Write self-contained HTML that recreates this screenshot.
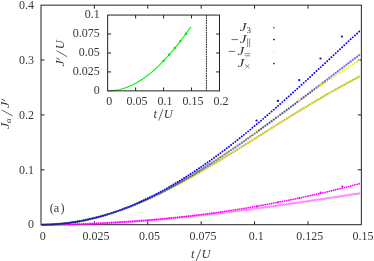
<!DOCTYPE html><html><head><meta charset="utf-8"><style>html,body{margin:0;padding:0;background:#fff}svg{display:block;will-change:transform}text{font-family:"Liberation Serif",serif;fill:#383838}</style></head><body>
<svg width="374" height="261" viewBox="0 0 374 261">
<rect width="374" height="261" fill="#fff"/>
<g stroke="#222" stroke-width="1" fill="none">
<rect x="41.0" y="5.15" width="320.35" height="219.55"/>
<path d="M94.39 224.7v-3.5M94.39 5.15v3.5"/>
<path d="M147.78 224.7v-3.5M147.78 5.15v3.5"/>
<path d="M201.18 224.7v-3.5M201.18 5.15v3.5"/>
<path d="M254.57 224.7v-3.5M254.57 5.15v3.5"/>
<path d="M307.96 224.7v-3.5M307.96 5.15v3.5"/>
<path d="M41.0 60.04h3.5M361.35 60.04h-3.5"/>
<path d="M41.0 114.92h3.5M361.35 114.92h-3.5"/>
<path d="M41.0 169.81h3.5M361.35 169.81h-3.5"/>
</g>
<g fill="none" stroke="#ff00ff" stroke-width="0.75" opacity="0.72"><circle cx="43.14" cy="224.70" r="0.8"/><circle cx="45.27" cy="224.69" r="0.8"/><circle cx="47.41" cy="224.68" r="0.8"/><circle cx="49.54" cy="224.67" r="0.8"/><circle cx="51.68" cy="224.65" r="0.8"/><circle cx="53.81" cy="224.63" r="0.8"/><circle cx="55.95" cy="224.61" r="0.8"/><circle cx="58.09" cy="224.58" r="0.8"/><circle cx="60.22" cy="224.55" r="0.8"/><circle cx="62.36" cy="224.52" r="0.8"/><circle cx="64.49" cy="224.48" r="0.8"/><circle cx="66.63" cy="224.44" r="0.8"/><circle cx="68.76" cy="224.39" r="0.8"/><circle cx="70.90" cy="224.35" r="0.8"/><circle cx="73.03" cy="224.29" r="0.8"/><circle cx="75.17" cy="224.24" r="0.8"/><circle cx="77.31" cy="224.18" r="0.8"/><circle cx="79.44" cy="224.12" r="0.8"/><circle cx="81.58" cy="224.05" r="0.8"/><circle cx="83.71" cy="223.98" r="0.8"/><circle cx="85.85" cy="223.91" r="0.8"/><circle cx="87.98" cy="223.83" r="0.8"/><circle cx="90.12" cy="223.75" r="0.8"/><circle cx="92.26" cy="223.66" r="0.8"/><circle cx="94.39" cy="223.58" r="0.8"/><circle cx="96.53" cy="223.49" r="0.8"/><circle cx="98.66" cy="223.39" r="0.8"/><circle cx="100.80" cy="223.29" r="0.8"/><circle cx="102.93" cy="223.19" r="0.8"/><circle cx="105.07" cy="223.09" r="0.8"/><circle cx="107.21" cy="222.98" r="0.8"/><circle cx="109.34" cy="222.87" r="0.8"/><circle cx="111.48" cy="222.76" r="0.8"/><circle cx="113.61" cy="222.64" r="0.8"/><circle cx="115.75" cy="222.52" r="0.8"/><circle cx="117.88" cy="222.39" r="0.8"/><circle cx="120.02" cy="222.26" r="0.8"/><circle cx="122.16" cy="222.13" r="0.8"/><circle cx="124.29" cy="222.00" r="0.8"/><circle cx="126.43" cy="221.86" r="0.8"/><circle cx="128.56" cy="221.72" r="0.8"/><circle cx="130.70" cy="221.58" r="0.8"/><circle cx="132.83" cy="221.43" r="0.8"/><circle cx="134.97" cy="221.28" r="0.8"/><circle cx="137.11" cy="221.13" r="0.8"/><circle cx="139.24" cy="220.97" r="0.8"/><circle cx="141.38" cy="220.81" r="0.8"/><circle cx="143.51" cy="220.65" r="0.8"/><circle cx="145.65" cy="220.48" r="0.8"/><circle cx="147.78" cy="220.31" r="0.8"/><circle cx="149.92" cy="220.14" r="0.8"/><circle cx="152.05" cy="219.97" r="0.8"/><circle cx="154.19" cy="219.79" r="0.8"/><circle cx="156.33" cy="219.61" r="0.8"/><circle cx="158.46" cy="219.43" r="0.8"/><circle cx="160.60" cy="219.24" r="0.8"/><circle cx="162.73" cy="219.05" r="0.8"/><circle cx="164.87" cy="218.86" r="0.8"/><circle cx="167.00" cy="218.67" r="0.8"/><circle cx="169.14" cy="218.47" r="0.8"/><circle cx="171.28" cy="218.27" r="0.8"/><circle cx="173.41" cy="218.07" r="0.8"/><circle cx="175.55" cy="217.86" r="0.8"/><circle cx="177.68" cy="217.66" r="0.8"/><circle cx="179.82" cy="217.45" r="0.8"/><circle cx="181.95" cy="217.23" r="0.8"/><circle cx="184.09" cy="217.02" r="0.8"/><circle cx="186.23" cy="216.80" r="0.8"/><circle cx="188.36" cy="216.58" r="0.8"/><circle cx="190.50" cy="216.36" r="0.8"/><circle cx="192.63" cy="216.13" r="0.8"/><circle cx="194.77" cy="215.90" r="0.8"/><circle cx="196.90" cy="215.67" r="0.8"/><circle cx="199.04" cy="215.44" r="0.8"/><circle cx="201.18" cy="215.21" r="0.8"/><circle cx="203.31" cy="214.97" r="0.8"/><circle cx="205.45" cy="214.73" r="0.8"/><circle cx="207.58" cy="214.49" r="0.8"/><circle cx="209.72" cy="214.24" r="0.8"/><circle cx="211.85" cy="214.00" r="0.8"/><circle cx="213.99" cy="213.75" r="0.8"/><circle cx="216.12" cy="213.50" r="0.8"/><circle cx="218.26" cy="213.25" r="0.8"/><circle cx="220.40" cy="212.99" r="0.8"/><circle cx="222.53" cy="212.74" r="0.8"/><circle cx="224.67" cy="212.48" r="0.8"/><circle cx="226.80" cy="212.22" r="0.8"/><circle cx="228.94" cy="211.96" r="0.8"/><circle cx="231.07" cy="211.69" r="0.8"/><circle cx="233.21" cy="211.43" r="0.8"/><circle cx="235.35" cy="211.16" r="0.8"/><circle cx="237.48" cy="210.89" r="0.8"/><circle cx="239.62" cy="210.62" r="0.8"/><circle cx="241.75" cy="210.34" r="0.8"/><circle cx="243.89" cy="210.07" r="0.8"/><circle cx="246.02" cy="209.79" r="0.8"/><circle cx="248.16" cy="209.51" r="0.8"/><circle cx="250.30" cy="209.24" r="0.8"/><circle cx="252.43" cy="208.95" r="0.8"/><circle cx="254.57" cy="208.67" r="0.8"/><circle cx="256.70" cy="208.39" r="0.8"/><circle cx="258.84" cy="208.10" r="0.8"/><circle cx="260.97" cy="207.81" r="0.8"/><circle cx="263.11" cy="207.52" r="0.8"/><circle cx="265.25" cy="207.23" r="0.8"/><circle cx="267.38" cy="206.94" r="0.8"/><circle cx="269.52" cy="206.65" r="0.8"/><circle cx="271.65" cy="206.35" r="0.8"/><circle cx="273.79" cy="206.06" r="0.8"/><circle cx="275.92" cy="205.76" r="0.8"/><circle cx="278.06" cy="205.46" r="0.8"/><circle cx="280.19" cy="205.16" r="0.8"/><circle cx="282.33" cy="204.86" r="0.8"/><circle cx="284.47" cy="204.56" r="0.8"/><circle cx="286.60" cy="204.26" r="0.8"/><circle cx="288.74" cy="203.96" r="0.8"/><circle cx="290.87" cy="203.65" r="0.8"/><circle cx="293.01" cy="203.35" r="0.8"/><circle cx="295.14" cy="203.04" r="0.8"/><circle cx="297.28" cy="202.73" r="0.8"/><circle cx="299.42" cy="202.42" r="0.8"/><circle cx="301.55" cy="202.11" r="0.8"/><circle cx="303.69" cy="201.80" r="0.8"/><circle cx="305.82" cy="201.49" r="0.8"/><circle cx="307.96" cy="201.18" r="0.8"/><circle cx="310.09" cy="200.86" r="0.8"/><circle cx="312.23" cy="200.55" r="0.8"/><circle cx="314.37" cy="200.23" r="0.8"/><circle cx="316.50" cy="199.92" r="0.8"/><circle cx="318.64" cy="199.60" r="0.8"/><circle cx="320.77" cy="199.29" r="0.8"/><circle cx="322.91" cy="198.97" r="0.8"/><circle cx="325.04" cy="198.65" r="0.8"/><circle cx="327.18" cy="198.33" r="0.8"/><circle cx="329.32" cy="198.01" r="0.8"/><circle cx="331.45" cy="197.69" r="0.8"/><circle cx="333.59" cy="197.37" r="0.8"/><circle cx="335.72" cy="197.05" r="0.8"/><circle cx="337.86" cy="196.73" r="0.8"/><circle cx="339.99" cy="196.41" r="0.8"/><circle cx="342.13" cy="196.09" r="0.8"/><circle cx="344.26" cy="195.76" r="0.8"/><circle cx="346.40" cy="195.44" r="0.8"/><circle cx="348.54" cy="195.12" r="0.8"/><circle cx="350.67" cy="194.79" r="0.8"/><circle cx="352.81" cy="194.47" r="0.8"/><circle cx="354.94" cy="194.14" r="0.8"/><circle cx="357.08" cy="193.82" r="0.8"/><circle cx="359.21" cy="193.49" r="0.8"/></g>
<g fill="#ff00ff" opacity="1"><circle cx="43.14" cy="224.70" r="0.9"/><circle cx="45.27" cy="224.69" r="0.9"/><circle cx="47.41" cy="224.68" r="0.9"/><circle cx="49.54" cy="224.67" r="0.9"/><circle cx="51.68" cy="224.66" r="0.9"/><circle cx="53.81" cy="224.64" r="0.9"/><circle cx="55.95" cy="224.61" r="0.9"/><circle cx="58.09" cy="224.59" r="0.9"/><circle cx="60.22" cy="224.56" r="0.9"/><circle cx="62.36" cy="224.52" r="0.9"/><circle cx="64.49" cy="224.48" r="0.9"/><circle cx="66.63" cy="224.44" r="0.9"/><circle cx="68.76" cy="224.40" r="0.9"/><circle cx="70.90" cy="224.35" r="0.9"/><circle cx="73.03" cy="224.30" r="0.9"/><circle cx="75.17" cy="224.24" r="0.9"/><circle cx="77.31" cy="224.18" r="0.9"/><circle cx="79.44" cy="224.12" r="0.9"/><circle cx="81.58" cy="224.06" r="0.9"/><circle cx="83.71" cy="223.99" r="0.9"/><circle cx="85.85" cy="223.91" r="0.9"/><circle cx="87.98" cy="223.84" r="0.9"/><circle cx="90.12" cy="223.76" r="0.9"/><circle cx="92.26" cy="223.67" r="0.9"/><circle cx="94.39" cy="223.58" r="0.9"/><circle cx="96.53" cy="223.49" r="0.9"/><circle cx="98.66" cy="223.40" r="0.9"/><circle cx="100.80" cy="223.30" r="0.9"/><circle cx="102.93" cy="223.20" r="0.9"/><circle cx="105.07" cy="223.09" r="0.9"/><circle cx="107.21" cy="222.98" r="0.9"/><circle cx="109.34" cy="222.87" r="0.9"/><circle cx="111.48" cy="222.75" r="0.9"/><circle cx="113.61" cy="222.63" r="0.9"/><circle cx="115.75" cy="222.51" r="0.9"/><circle cx="117.88" cy="222.38" r="0.9"/><circle cx="120.02" cy="222.25" r="0.9"/><circle cx="122.16" cy="222.12" r="0.9"/><circle cx="124.29" cy="221.98" r="0.9"/><circle cx="126.43" cy="221.84" r="0.9"/><circle cx="128.56" cy="221.69" r="0.9"/><circle cx="130.70" cy="221.54" r="0.9"/><circle cx="132.83" cy="221.39" r="0.9"/><circle cx="134.97" cy="221.24" r="0.9"/><circle cx="137.11" cy="221.08" r="0.9"/><circle cx="139.24" cy="220.91" r="0.9"/><circle cx="141.38" cy="220.75" r="0.9"/><circle cx="143.51" cy="220.58" r="0.9"/><circle cx="145.65" cy="220.40" r="0.9"/><circle cx="147.78" cy="220.22" r="0.9"/><circle cx="149.92" cy="220.04" r="0.9"/><circle cx="152.05" cy="219.86" r="0.9"/><circle cx="154.19" cy="219.67" r="0.9"/><circle cx="156.33" cy="219.47" r="0.9"/><circle cx="158.46" cy="219.28" r="0.9"/><circle cx="160.60" cy="219.08" r="0.9"/><circle cx="162.73" cy="218.88" r="0.9"/><circle cx="164.87" cy="218.67" r="0.9"/><circle cx="167.00" cy="218.46" r="0.9"/><circle cx="169.14" cy="218.24" r="0.9"/><circle cx="171.28" cy="218.02" r="0.9"/><circle cx="173.41" cy="217.80" r="0.9"/><circle cx="175.55" cy="217.58" r="0.9"/><circle cx="177.68" cy="217.35" r="0.9"/><circle cx="179.82" cy="217.11" r="0.9"/><circle cx="181.95" cy="216.88" r="0.9"/><circle cx="184.09" cy="216.64" r="0.9"/><circle cx="186.23" cy="216.39" r="0.9"/><circle cx="188.36" cy="216.14" r="0.9"/><circle cx="190.50" cy="215.89" r="0.9"/><circle cx="192.63" cy="215.64" r="0.9"/><circle cx="194.77" cy="215.38" r="0.9"/><circle cx="196.90" cy="215.12" r="0.9"/><circle cx="199.04" cy="214.85" r="0.9"/><circle cx="201.18" cy="214.58" r="0.9"/><circle cx="203.31" cy="214.30" r="0.9"/><circle cx="205.45" cy="214.03" r="0.9"/><circle cx="207.58" cy="213.75" r="0.9"/><circle cx="209.72" cy="213.46" r="0.9"/><circle cx="211.85" cy="213.17" r="0.9"/><circle cx="213.99" cy="212.88" r="0.9"/><circle cx="216.12" cy="212.58" r="0.9"/><circle cx="218.26" cy="212.28" r="0.9"/><circle cx="220.40" cy="211.98" r="0.9"/><circle cx="222.53" cy="211.67" r="0.9"/><circle cx="224.67" cy="211.36" r="0.9"/><circle cx="226.80" cy="211.04" r="0.9"/><circle cx="228.94" cy="210.72" r="0.9"/><circle cx="231.07" cy="210.40" r="0.9"/><circle cx="233.21" cy="210.07" r="0.9"/><circle cx="235.35" cy="209.74" r="0.9"/><circle cx="237.48" cy="209.40" r="0.9"/><circle cx="239.62" cy="209.07" r="0.9"/><circle cx="241.75" cy="208.72" r="0.9"/><circle cx="243.89" cy="208.38" r="0.9"/><circle cx="246.02" cy="208.03" r="0.9"/><circle cx="248.16" cy="207.67" r="0.9"/><circle cx="250.30" cy="207.31" r="0.9"/><circle cx="252.43" cy="206.95" r="0.9"/><circle cx="254.57" cy="206.59" r="0.9"/><circle cx="256.70" cy="206.22" r="0.9"/><circle cx="258.84" cy="205.84" r="0.9"/><circle cx="260.97" cy="205.47" r="0.9"/><circle cx="263.11" cy="205.08" r="0.9"/><circle cx="265.25" cy="204.70" r="0.9"/><circle cx="267.38" cy="204.31" r="0.9"/><circle cx="269.52" cy="203.92" r="0.9"/><circle cx="271.65" cy="203.52" r="0.9"/><circle cx="273.79" cy="203.12" r="0.9"/><circle cx="275.92" cy="202.71" r="0.9"/><circle cx="278.06" cy="202.30" r="0.9"/><circle cx="280.19" cy="201.89" r="0.9"/><circle cx="282.33" cy="201.47" r="0.9"/><circle cx="284.47" cy="201.05" r="0.9"/><circle cx="286.60" cy="200.63" r="0.9"/><circle cx="288.74" cy="200.20" r="0.9"/><circle cx="290.87" cy="199.77" r="0.9"/><circle cx="293.01" cy="199.33" r="0.9"/><circle cx="295.14" cy="198.89" r="0.9"/><circle cx="297.28" cy="198.44" r="0.9"/><circle cx="299.42" cy="197.99" r="0.9"/><circle cx="301.55" cy="197.54" r="0.9"/><circle cx="303.69" cy="197.08" r="0.9"/><circle cx="305.82" cy="196.62" r="0.9"/><circle cx="307.96" cy="196.16" r="0.9"/><circle cx="310.09" cy="195.69" r="0.9"/><circle cx="312.23" cy="195.21" r="0.9"/><circle cx="314.37" cy="194.74" r="0.9"/><circle cx="316.50" cy="194.26" r="0.9"/><circle cx="318.64" cy="193.77" r="0.9"/><circle cx="320.77" cy="193.28" r="0.9"/><circle cx="322.91" cy="192.79" r="0.9"/><circle cx="325.04" cy="192.29" r="0.9"/><circle cx="327.18" cy="191.78" r="0.9"/><circle cx="329.32" cy="191.28" r="0.9"/><circle cx="331.45" cy="190.77" r="0.9"/><circle cx="333.59" cy="190.25" r="0.9"/><circle cx="335.72" cy="189.73" r="0.9"/><circle cx="337.86" cy="189.21" r="0.9"/><circle cx="339.99" cy="188.68" r="0.9"/><circle cx="342.13" cy="188.15" r="0.9"/><circle cx="344.26" cy="187.61" r="0.9"/><circle cx="346.40" cy="187.07" r="0.9"/><circle cx="348.54" cy="186.53" r="0.9"/><circle cx="350.67" cy="185.98" r="0.9"/><circle cx="352.81" cy="185.43" r="0.9"/><circle cx="354.94" cy="184.87" r="0.9"/><circle cx="357.08" cy="184.31" r="0.9"/><circle cx="359.21" cy="183.74" r="0.9"/></g>
<g fill="#cccc28" opacity="0.95"><circle cx="43.14" cy="224.69" r="1.2"/><circle cx="45.27" cy="224.66" r="1.2"/><circle cx="47.41" cy="224.60" r="1.2"/><circle cx="49.54" cy="224.53" r="1.2"/><circle cx="51.68" cy="224.43" r="1.2"/><circle cx="53.81" cy="224.31" r="1.2"/><circle cx="55.95" cy="224.17" r="1.2"/><circle cx="58.09" cy="224.01" r="1.2"/><circle cx="60.22" cy="223.83" r="1.2"/><circle cx="62.36" cy="223.62" r="1.2"/><circle cx="64.49" cy="223.40" r="1.2"/><circle cx="66.63" cy="223.15" r="1.2"/><circle cx="68.76" cy="222.88" r="1.2"/><circle cx="70.90" cy="222.59" r="1.2"/><circle cx="73.03" cy="222.28" r="1.2"/><circle cx="75.17" cy="221.95" r="1.2"/><circle cx="77.31" cy="221.60" r="1.2"/><circle cx="79.44" cy="221.22" r="1.2"/><circle cx="81.58" cy="220.83" r="1.2"/><circle cx="83.71" cy="220.42" r="1.2"/><circle cx="85.85" cy="219.98" r="1.2"/><circle cx="87.98" cy="219.53" r="1.2"/><circle cx="90.12" cy="219.05" r="1.2"/><circle cx="92.26" cy="218.56" r="1.2"/><circle cx="94.39" cy="218.04" r="1.2"/><circle cx="96.53" cy="217.51" r="1.2"/><circle cx="98.66" cy="216.95" r="1.2"/><circle cx="100.80" cy="216.38" r="1.2"/><circle cx="102.93" cy="215.79" r="1.2"/><circle cx="105.07" cy="215.18" r="1.2"/><circle cx="107.21" cy="214.54" r="1.2"/><circle cx="109.34" cy="213.90" r="1.2"/><circle cx="111.48" cy="213.23" r="1.2"/><circle cx="113.61" cy="212.54" r="1.2"/><circle cx="115.75" cy="211.84" r="1.2"/><circle cx="117.88" cy="211.11" r="1.2"/><circle cx="120.02" cy="210.37" r="1.2"/><circle cx="122.16" cy="209.61" r="1.2"/><circle cx="124.29" cy="208.84" r="1.2"/><circle cx="126.43" cy="208.05" r="1.2"/><circle cx="128.56" cy="207.24" r="1.2"/><circle cx="130.70" cy="206.41" r="1.2"/><circle cx="132.83" cy="205.57" r="1.2"/><circle cx="134.97" cy="204.71" r="1.2"/><circle cx="137.11" cy="203.83" r="1.2"/><circle cx="139.24" cy="202.94" r="1.2"/><circle cx="141.38" cy="202.04" r="1.2"/><circle cx="143.51" cy="201.11" r="1.2"/><circle cx="145.65" cy="200.18" r="1.2"/><circle cx="147.78" cy="199.23" r="1.2"/><circle cx="149.92" cy="198.26" r="1.2"/><circle cx="152.05" cy="197.28" r="1.2"/><circle cx="154.19" cy="196.28" r="1.2"/><circle cx="156.33" cy="195.27" r="1.2"/><circle cx="158.46" cy="194.25" r="1.2"/><circle cx="160.60" cy="193.22" r="1.2"/><circle cx="162.73" cy="192.17" r="1.2"/><circle cx="164.87" cy="191.11" r="1.2"/><circle cx="167.00" cy="190.03" r="1.2"/><circle cx="169.14" cy="188.95" r="1.2"/><circle cx="171.28" cy="187.85" r="1.2"/><circle cx="173.41" cy="186.74" r="1.2"/><circle cx="175.55" cy="185.62" r="1.2"/><circle cx="177.68" cy="184.49" r="1.2"/><circle cx="179.82" cy="183.34" r="1.2"/><circle cx="181.95" cy="182.19" r="1.2"/><circle cx="184.09" cy="181.02" r="1.2"/><circle cx="186.23" cy="179.85" r="1.2"/><circle cx="188.36" cy="178.67" r="1.2"/><circle cx="190.50" cy="177.47" r="1.2"/><circle cx="192.63" cy="176.27" r="1.2"/><circle cx="194.77" cy="175.06" r="1.2"/><circle cx="196.90" cy="173.84" r="1.2"/><circle cx="199.04" cy="172.62" r="1.2"/><circle cx="201.18" cy="171.38" r="1.2"/><circle cx="203.31" cy="170.14" r="1.2"/><circle cx="205.45" cy="168.89" r="1.2"/><circle cx="207.58" cy="167.63" r="1.2"/><circle cx="209.72" cy="166.36" r="1.2"/><circle cx="211.85" cy="165.09" r="1.2"/><circle cx="213.99" cy="163.82" r="1.2"/><circle cx="216.12" cy="162.53" r="1.2"/><circle cx="218.26" cy="161.24" r="1.2"/><circle cx="220.40" cy="159.95" r="1.2"/><circle cx="222.53" cy="158.65" r="1.2"/><circle cx="224.67" cy="157.35" r="1.2"/><circle cx="226.80" cy="156.04" r="1.2"/><circle cx="228.94" cy="154.73" r="1.2"/><circle cx="231.07" cy="153.41" r="1.2"/><circle cx="233.21" cy="152.09" r="1.2"/><circle cx="235.35" cy="150.77" r="1.2"/><circle cx="237.48" cy="149.44" r="1.2"/><circle cx="239.62" cy="148.11" r="1.2"/><circle cx="241.75" cy="146.78" r="1.2"/><circle cx="243.89" cy="145.44" r="1.2"/><circle cx="246.02" cy="144.11" r="1.2"/><circle cx="248.16" cy="142.77" r="1.2"/><circle cx="250.30" cy="141.43" r="1.2"/><circle cx="252.43" cy="140.09" r="1.2"/><circle cx="254.57" cy="138.75" r="1.2"/><circle cx="256.70" cy="137.41" r="1.2"/><circle cx="258.84" cy="136.06" r="1.2"/><circle cx="260.97" cy="134.72" r="1.2"/><circle cx="263.11" cy="133.38" r="1.2"/><circle cx="265.25" cy="132.04" r="1.2"/><circle cx="267.38" cy="130.69" r="1.2"/><circle cx="269.52" cy="129.35" r="1.2"/><circle cx="271.65" cy="128.01" r="1.2"/><circle cx="273.79" cy="126.67" r="1.2"/><circle cx="275.92" cy="125.34" r="1.2"/><circle cx="278.06" cy="124.00" r="1.2"/><circle cx="280.19" cy="122.67" r="1.2"/><circle cx="282.33" cy="121.34" r="1.2"/><circle cx="284.47" cy="120.01" r="1.2"/><circle cx="286.60" cy="118.69" r="1.2"/><circle cx="288.74" cy="117.36" r="1.2"/><circle cx="290.87" cy="116.05" r="1.2"/><circle cx="293.01" cy="114.73" r="1.2"/><circle cx="295.14" cy="113.42" r="1.2"/><circle cx="297.28" cy="112.11" r="1.2"/><circle cx="299.42" cy="110.80" r="1.2"/><circle cx="301.55" cy="109.50" r="1.2"/><circle cx="303.69" cy="108.21" r="1.2"/><circle cx="305.82" cy="106.92" r="1.2"/><circle cx="307.96" cy="105.63" r="1.2"/><circle cx="310.09" cy="104.35" r="1.2"/><circle cx="312.23" cy="103.08" r="1.2"/><circle cx="314.37" cy="101.80" r="1.2"/><circle cx="316.50" cy="100.54" r="1.2"/><circle cx="318.64" cy="99.28" r="1.2"/><circle cx="320.77" cy="98.03" r="1.2"/><circle cx="322.91" cy="96.78" r="1.2"/><circle cx="325.04" cy="95.54" r="1.2"/><circle cx="327.18" cy="94.31" r="1.2"/><circle cx="329.32" cy="93.08" r="1.2"/><circle cx="331.45" cy="91.86" r="1.2"/><circle cx="333.59" cy="90.64" r="1.2"/><circle cx="335.72" cy="89.43" r="1.2"/><circle cx="337.86" cy="88.23" r="1.2"/><circle cx="339.99" cy="87.04" r="1.2"/><circle cx="342.13" cy="85.86" r="1.2"/><circle cx="344.26" cy="84.68" r="1.2"/><circle cx="346.40" cy="83.51" r="1.2"/><circle cx="348.54" cy="82.35" r="1.2"/><circle cx="350.67" cy="81.19" r="1.2"/><circle cx="352.81" cy="80.05" r="1.2"/><circle cx="354.94" cy="78.91" r="1.2"/><circle cx="357.08" cy="77.78" r="1.2"/><circle cx="359.21" cy="76.66" r="1.2"/></g>
<g fill="#000" opacity="0.15"><circle cx="43.14" cy="224.69" r="0.45"/><circle cx="45.27" cy="224.66" r="0.45"/><circle cx="47.41" cy="224.60" r="0.45"/><circle cx="49.54" cy="224.53" r="0.45"/><circle cx="51.68" cy="224.43" r="0.45"/><circle cx="53.81" cy="224.31" r="0.45"/><circle cx="55.95" cy="224.17" r="0.45"/><circle cx="58.09" cy="224.01" r="0.45"/><circle cx="60.22" cy="223.83" r="0.45"/><circle cx="62.36" cy="223.62" r="0.45"/><circle cx="64.49" cy="223.40" r="0.45"/><circle cx="66.63" cy="223.15" r="0.45"/><circle cx="68.76" cy="222.88" r="0.45"/><circle cx="70.90" cy="222.59" r="0.45"/><circle cx="73.03" cy="222.28" r="0.45"/><circle cx="75.17" cy="221.95" r="0.45"/><circle cx="77.31" cy="221.60" r="0.45"/><circle cx="79.44" cy="221.22" r="0.45"/><circle cx="81.58" cy="220.83" r="0.45"/><circle cx="83.71" cy="220.42" r="0.45"/><circle cx="85.85" cy="219.98" r="0.45"/><circle cx="87.98" cy="219.53" r="0.45"/><circle cx="90.12" cy="219.05" r="0.45"/><circle cx="92.26" cy="218.56" r="0.45"/><circle cx="94.39" cy="218.04" r="0.45"/><circle cx="96.53" cy="217.51" r="0.45"/><circle cx="98.66" cy="216.95" r="0.45"/><circle cx="100.80" cy="216.38" r="0.45"/><circle cx="102.93" cy="215.79" r="0.45"/><circle cx="105.07" cy="215.18" r="0.45"/><circle cx="107.21" cy="214.54" r="0.45"/><circle cx="109.34" cy="213.90" r="0.45"/><circle cx="111.48" cy="213.23" r="0.45"/><circle cx="113.61" cy="212.54" r="0.45"/><circle cx="115.75" cy="211.84" r="0.45"/><circle cx="117.88" cy="211.11" r="0.45"/><circle cx="120.02" cy="210.37" r="0.45"/><circle cx="122.16" cy="209.61" r="0.45"/><circle cx="124.29" cy="208.84" r="0.45"/><circle cx="126.43" cy="208.05" r="0.45"/><circle cx="128.56" cy="207.24" r="0.45"/><circle cx="130.70" cy="206.41" r="0.45"/><circle cx="132.83" cy="205.57" r="0.45"/><circle cx="134.97" cy="204.71" r="0.45"/><circle cx="137.11" cy="203.83" r="0.45"/><circle cx="139.24" cy="202.94" r="0.45"/><circle cx="141.38" cy="202.04" r="0.45"/><circle cx="143.51" cy="201.11" r="0.45"/><circle cx="145.65" cy="200.18" r="0.45"/><circle cx="147.78" cy="199.23" r="0.45"/><circle cx="149.92" cy="198.26" r="0.45"/><circle cx="152.05" cy="197.28" r="0.45"/><circle cx="154.19" cy="196.28" r="0.45"/><circle cx="156.33" cy="195.27" r="0.45"/><circle cx="158.46" cy="194.25" r="0.45"/><circle cx="160.60" cy="193.22" r="0.45"/><circle cx="162.73" cy="192.17" r="0.45"/><circle cx="164.87" cy="191.11" r="0.45"/><circle cx="167.00" cy="190.03" r="0.45"/><circle cx="169.14" cy="188.95" r="0.45"/><circle cx="171.28" cy="187.85" r="0.45"/><circle cx="173.41" cy="186.74" r="0.45"/><circle cx="175.55" cy="185.62" r="0.45"/><circle cx="177.68" cy="184.49" r="0.45"/><circle cx="179.82" cy="183.34" r="0.45"/><circle cx="181.95" cy="182.19" r="0.45"/><circle cx="184.09" cy="181.02" r="0.45"/><circle cx="186.23" cy="179.85" r="0.45"/><circle cx="188.36" cy="178.67" r="0.45"/><circle cx="190.50" cy="177.47" r="0.45"/><circle cx="192.63" cy="176.27" r="0.45"/><circle cx="194.77" cy="175.06" r="0.45"/><circle cx="196.90" cy="173.84" r="0.45"/><circle cx="199.04" cy="172.62" r="0.45"/><circle cx="201.18" cy="171.38" r="0.45"/><circle cx="203.31" cy="170.14" r="0.45"/><circle cx="205.45" cy="168.89" r="0.45"/><circle cx="207.58" cy="167.63" r="0.45"/><circle cx="209.72" cy="166.36" r="0.45"/><circle cx="211.85" cy="165.09" r="0.45"/><circle cx="213.99" cy="163.82" r="0.45"/><circle cx="216.12" cy="162.53" r="0.45"/><circle cx="218.26" cy="161.24" r="0.45"/><circle cx="220.40" cy="159.95" r="0.45"/><circle cx="222.53" cy="158.65" r="0.45"/><circle cx="224.67" cy="157.35" r="0.45"/><circle cx="226.80" cy="156.04" r="0.45"/><circle cx="228.94" cy="154.73" r="0.45"/><circle cx="231.07" cy="153.41" r="0.45"/><circle cx="233.21" cy="152.09" r="0.45"/><circle cx="235.35" cy="150.77" r="0.45"/><circle cx="237.48" cy="149.44" r="0.45"/><circle cx="239.62" cy="148.11" r="0.45"/><circle cx="241.75" cy="146.78" r="0.45"/><circle cx="243.89" cy="145.44" r="0.45"/><circle cx="246.02" cy="144.11" r="0.45"/><circle cx="248.16" cy="142.77" r="0.45"/><circle cx="250.30" cy="141.43" r="0.45"/><circle cx="252.43" cy="140.09" r="0.45"/><circle cx="254.57" cy="138.75" r="0.45"/><circle cx="256.70" cy="137.41" r="0.45"/><circle cx="258.84" cy="136.06" r="0.45"/><circle cx="260.97" cy="134.72" r="0.45"/><circle cx="263.11" cy="133.38" r="0.45"/><circle cx="265.25" cy="132.04" r="0.45"/><circle cx="267.38" cy="130.69" r="0.45"/><circle cx="269.52" cy="129.35" r="0.45"/><circle cx="271.65" cy="128.01" r="0.45"/><circle cx="273.79" cy="126.67" r="0.45"/><circle cx="275.92" cy="125.34" r="0.45"/><circle cx="278.06" cy="124.00" r="0.45"/><circle cx="280.19" cy="122.67" r="0.45"/><circle cx="282.33" cy="121.34" r="0.45"/><circle cx="284.47" cy="120.01" r="0.45"/><circle cx="286.60" cy="118.69" r="0.45"/><circle cx="288.74" cy="117.36" r="0.45"/><circle cx="290.87" cy="116.05" r="0.45"/><circle cx="293.01" cy="114.73" r="0.45"/><circle cx="295.14" cy="113.42" r="0.45"/><circle cx="297.28" cy="112.11" r="0.45"/><circle cx="299.42" cy="110.80" r="0.45"/><circle cx="301.55" cy="109.50" r="0.45"/><circle cx="303.69" cy="108.21" r="0.45"/><circle cx="305.82" cy="106.92" r="0.45"/><circle cx="307.96" cy="105.63" r="0.45"/><circle cx="310.09" cy="104.35" r="0.45"/><circle cx="312.23" cy="103.08" r="0.45"/><circle cx="314.37" cy="101.80" r="0.45"/><circle cx="316.50" cy="100.54" r="0.45"/><circle cx="318.64" cy="99.28" r="0.45"/><circle cx="320.77" cy="98.03" r="0.45"/><circle cx="322.91" cy="96.78" r="0.45"/><circle cx="325.04" cy="95.54" r="0.45"/><circle cx="327.18" cy="94.31" r="0.45"/><circle cx="329.32" cy="93.08" r="0.45"/><circle cx="331.45" cy="91.86" r="0.45"/><circle cx="333.59" cy="90.64" r="0.45"/><circle cx="335.72" cy="89.43" r="0.45"/><circle cx="337.86" cy="88.23" r="0.45"/><circle cx="339.99" cy="87.04" r="0.45"/><circle cx="342.13" cy="85.86" r="0.45"/><circle cx="344.26" cy="84.68" r="0.45"/><circle cx="346.40" cy="83.51" r="0.45"/><circle cx="348.54" cy="82.35" r="0.45"/><circle cx="350.67" cy="81.19" r="0.45"/><circle cx="352.81" cy="80.05" r="0.45"/><circle cx="354.94" cy="78.91" r="0.45"/><circle cx="357.08" cy="77.78" r="0.45"/><circle cx="359.21" cy="76.66" r="0.45"/></g>
<g fill="#ffff00" opacity="1"><circle cx="256.70" cy="131.42" r="0.9"/><circle cx="258.84" cy="129.89" r="0.9"/><circle cx="260.97" cy="128.37" r="0.9"/><circle cx="263.11" cy="126.84" r="0.9"/><circle cx="265.25" cy="125.31" r="0.9"/><circle cx="267.38" cy="123.77" r="0.9"/><circle cx="269.52" cy="122.24" r="0.9"/><circle cx="271.65" cy="120.70" r="0.9"/><circle cx="273.79" cy="119.16" r="0.9"/><circle cx="275.92" cy="117.62" r="0.9"/><circle cx="278.06" cy="116.08" r="0.9"/><circle cx="280.19" cy="114.54" r="0.9"/><circle cx="282.33" cy="113.00" r="0.9"/><circle cx="284.47" cy="111.46" r="0.9"/><circle cx="286.60" cy="109.92" r="0.9"/><circle cx="288.74" cy="108.38" r="0.9"/><circle cx="290.87" cy="106.84" r="0.9"/><circle cx="293.01" cy="105.30" r="0.9"/><circle cx="295.14" cy="103.77" r="0.9"/><circle cx="297.28" cy="102.23" r="0.9"/><circle cx="299.42" cy="100.70" r="0.9"/><circle cx="301.55" cy="99.17" r="0.9"/><circle cx="303.69" cy="97.65" r="0.9"/><circle cx="305.82" cy="96.13" r="0.9"/><circle cx="307.96" cy="94.61" r="0.9"/><circle cx="310.09" cy="93.10" r="0.9"/><circle cx="312.23" cy="91.59" r="0.9"/><circle cx="314.37" cy="90.08" r="0.9"/><circle cx="316.50" cy="88.58" r="0.9"/><circle cx="318.64" cy="87.09" r="0.9"/><circle cx="320.77" cy="85.60" r="0.9"/><circle cx="322.91" cy="84.11" r="0.9"/><circle cx="325.04" cy="82.64" r="0.9"/><circle cx="327.18" cy="81.17" r="0.9"/><circle cx="329.32" cy="79.71" r="0.9"/><circle cx="331.45" cy="78.25" r="0.9"/><circle cx="333.59" cy="76.80" r="0.9"/><circle cx="335.72" cy="75.36" r="0.9"/><circle cx="337.86" cy="73.93" r="0.9"/><circle cx="339.99" cy="72.51" r="0.9"/><circle cx="342.13" cy="71.10" r="0.9"/><circle cx="344.26" cy="69.70" r="0.9"/><circle cx="346.40" cy="68.30" r="0.9"/><circle cx="348.54" cy="66.92" r="0.9"/><circle cx="350.67" cy="65.55" r="0.9"/><circle cx="352.81" cy="64.19" r="0.9"/><circle cx="354.94" cy="62.84" r="0.9"/><circle cx="357.08" cy="61.50" r="0.9"/><circle cx="359.21" cy="60.18" r="0.9"/></g>
<g fill="#000" opacity="0.4"><circle cx="256.70" cy="131.42" r="0.38"/><circle cx="258.84" cy="129.89" r="0.38"/><circle cx="260.97" cy="128.37" r="0.38"/><circle cx="263.11" cy="126.84" r="0.38"/><circle cx="265.25" cy="125.31" r="0.38"/><circle cx="267.38" cy="123.77" r="0.38"/><circle cx="269.52" cy="122.24" r="0.38"/><circle cx="271.65" cy="120.70" r="0.38"/><circle cx="273.79" cy="119.16" r="0.38"/><circle cx="275.92" cy="117.62" r="0.38"/><circle cx="278.06" cy="116.08" r="0.38"/><circle cx="280.19" cy="114.54" r="0.38"/><circle cx="282.33" cy="113.00" r="0.38"/><circle cx="284.47" cy="111.46" r="0.38"/><circle cx="286.60" cy="109.92" r="0.38"/><circle cx="288.74" cy="108.38" r="0.38"/><circle cx="290.87" cy="106.84" r="0.38"/><circle cx="293.01" cy="105.30" r="0.38"/><circle cx="295.14" cy="103.77" r="0.38"/><circle cx="297.28" cy="102.23" r="0.38"/><circle cx="299.42" cy="100.70" r="0.38"/><circle cx="301.55" cy="99.17" r="0.38"/><circle cx="303.69" cy="97.65" r="0.38"/><circle cx="305.82" cy="96.13" r="0.38"/><circle cx="307.96" cy="94.61" r="0.38"/><circle cx="310.09" cy="93.10" r="0.38"/><circle cx="312.23" cy="91.59" r="0.38"/><circle cx="314.37" cy="90.08" r="0.38"/><circle cx="316.50" cy="88.58" r="0.38"/><circle cx="318.64" cy="87.09" r="0.38"/><circle cx="320.77" cy="85.60" r="0.38"/><circle cx="322.91" cy="84.11" r="0.38"/><circle cx="325.04" cy="82.64" r="0.38"/><circle cx="327.18" cy="81.17" r="0.38"/><circle cx="329.32" cy="79.71" r="0.38"/><circle cx="331.45" cy="78.25" r="0.38"/><circle cx="333.59" cy="76.80" r="0.38"/><circle cx="335.72" cy="75.36" r="0.38"/><circle cx="337.86" cy="73.93" r="0.38"/><circle cx="339.99" cy="72.51" r="0.38"/><circle cx="342.13" cy="71.10" r="0.38"/><circle cx="344.26" cy="69.70" r="0.38"/><circle cx="346.40" cy="68.30" r="0.38"/><circle cx="348.54" cy="66.92" r="0.38"/><circle cx="350.67" cy="65.55" r="0.38"/><circle cx="352.81" cy="64.19" r="0.38"/><circle cx="354.94" cy="62.84" r="0.38"/><circle cx="357.08" cy="61.50" r="0.38"/><circle cx="359.21" cy="60.18" r="0.38"/></g>
<g fill="#000" opacity="0.25"><circle cx="43.14" cy="224.69" r="0.6"/><circle cx="45.27" cy="224.66" r="0.6"/><circle cx="47.41" cy="224.60" r="0.6"/><circle cx="49.54" cy="224.53" r="0.6"/><circle cx="51.68" cy="224.43" r="0.6"/><circle cx="53.81" cy="224.31" r="0.6"/><circle cx="55.95" cy="224.17" r="0.6"/><circle cx="58.09" cy="224.01" r="0.6"/><circle cx="60.22" cy="223.83" r="0.6"/><circle cx="62.36" cy="223.62" r="0.6"/><circle cx="64.49" cy="223.39" r="0.6"/><circle cx="66.63" cy="223.15" r="0.6"/><circle cx="68.76" cy="222.88" r="0.6"/><circle cx="70.90" cy="222.59" r="0.6"/><circle cx="73.03" cy="222.28" r="0.6"/><circle cx="75.17" cy="221.95" r="0.6"/><circle cx="77.31" cy="221.59" r="0.6"/><circle cx="79.44" cy="221.22" r="0.6"/><circle cx="81.58" cy="220.82" r="0.6"/><circle cx="83.71" cy="220.41" r="0.6"/><circle cx="85.85" cy="219.97" r="0.6"/><circle cx="87.98" cy="219.51" r="0.6"/><circle cx="90.12" cy="219.04" r="0.6"/><circle cx="92.26" cy="218.54" r="0.6"/><circle cx="94.39" cy="218.02" r="0.6"/><circle cx="96.53" cy="217.48" r="0.6"/><circle cx="98.66" cy="216.92" r="0.6"/><circle cx="100.80" cy="216.35" r="0.6"/><circle cx="102.93" cy="215.75" r="0.6"/><circle cx="105.07" cy="215.13" r="0.6"/><circle cx="107.21" cy="214.49" r="0.6"/><circle cx="109.34" cy="213.84" r="0.6"/><circle cx="111.48" cy="213.16" r="0.6"/><circle cx="113.61" cy="212.46" r="0.6"/><circle cx="115.75" cy="211.75" r="0.6"/><circle cx="117.88" cy="211.02" r="0.6"/><circle cx="120.02" cy="210.27" r="0.6"/><circle cx="122.16" cy="209.50" r="0.6"/><circle cx="124.29" cy="208.71" r="0.6"/><circle cx="126.43" cy="207.90" r="0.6"/><circle cx="128.56" cy="207.08" r="0.6"/><circle cx="130.70" cy="206.24" r="0.6"/><circle cx="132.83" cy="205.38" r="0.6"/><circle cx="134.97" cy="204.50" r="0.6"/><circle cx="137.11" cy="203.60" r="0.6"/><circle cx="139.24" cy="202.69" r="0.6"/><circle cx="141.38" cy="201.76" r="0.6"/><circle cx="143.51" cy="200.82" r="0.6"/><circle cx="145.65" cy="199.85" r="0.6"/><circle cx="147.78" cy="198.88" r="0.6"/><circle cx="149.92" cy="197.88" r="0.6"/><circle cx="152.05" cy="196.87" r="0.6"/><circle cx="154.19" cy="195.84" r="0.6"/><circle cx="156.33" cy="194.80" r="0.6"/><circle cx="158.46" cy="193.74" r="0.6"/><circle cx="160.60" cy="192.67" r="0.6"/><circle cx="162.73" cy="191.58" r="0.6"/><circle cx="164.87" cy="190.48" r="0.6"/><circle cx="167.00" cy="189.36" r="0.6"/><circle cx="169.14" cy="188.23" r="0.6"/><circle cx="171.28" cy="187.08" r="0.6"/><circle cx="173.41" cy="185.92" r="0.6"/><circle cx="175.55" cy="184.75" r="0.6"/><circle cx="177.68" cy="183.56" r="0.6"/><circle cx="179.82" cy="182.36" r="0.6"/><circle cx="181.95" cy="181.15" r="0.6"/><circle cx="184.09" cy="179.92" r="0.6"/><circle cx="186.23" cy="178.68" r="0.6"/><circle cx="188.36" cy="177.43" r="0.6"/><circle cx="190.50" cy="176.16" r="0.6"/><circle cx="192.63" cy="174.89" r="0.6"/><circle cx="194.77" cy="173.60" r="0.6"/><circle cx="196.90" cy="172.30" r="0.6"/><circle cx="199.04" cy="170.99" r="0.6"/><circle cx="201.18" cy="169.67" r="0.6"/><circle cx="203.31" cy="168.33" r="0.6"/><circle cx="205.45" cy="166.99" r="0.6"/><circle cx="207.58" cy="165.63" r="0.6"/><circle cx="209.72" cy="164.27" r="0.6"/><circle cx="211.85" cy="162.89" r="0.6"/><circle cx="213.99" cy="161.51" r="0.6"/><circle cx="216.12" cy="160.12" r="0.6"/><circle cx="218.26" cy="158.71" r="0.6"/><circle cx="220.40" cy="157.30" r="0.6"/><circle cx="222.53" cy="155.88" r="0.6"/><circle cx="224.67" cy="154.44" r="0.6"/><circle cx="226.80" cy="153.01" r="0.6"/><circle cx="228.94" cy="151.56" r="0.6"/><circle cx="231.07" cy="150.10" r="0.6"/><circle cx="233.21" cy="148.64" r="0.6"/></g>
<g fill="#000" opacity="0.35"><circle cx="235.35" cy="147.17" r="0.6"/><circle cx="237.48" cy="145.69" r="0.6"/><circle cx="239.62" cy="144.20" r="0.6"/><circle cx="241.75" cy="142.71" r="0.6"/><circle cx="243.89" cy="141.21" r="0.6"/><circle cx="246.02" cy="139.70" r="0.6"/><circle cx="248.16" cy="138.18" r="0.6"/><circle cx="250.30" cy="136.66" r="0.6"/><circle cx="252.43" cy="135.14" r="0.6"/><circle cx="254.57" cy="133.61" r="0.6"/><circle cx="256.70" cy="132.07" r="0.6"/><circle cx="258.84" cy="130.53" r="0.6"/><circle cx="260.97" cy="128.98" r="0.6"/><circle cx="263.11" cy="127.42" r="0.6"/><circle cx="265.25" cy="125.87" r="0.6"/><circle cx="267.38" cy="124.30" r="0.6"/><circle cx="269.52" cy="122.73" r="0.6"/><circle cx="271.65" cy="121.16" r="0.6"/><circle cx="273.79" cy="119.59" r="0.6"/><circle cx="275.92" cy="118.01" r="0.6"/><circle cx="278.06" cy="116.42" r="0.6"/><circle cx="280.19" cy="114.84" r="0.6"/><circle cx="282.33" cy="113.24" r="0.6"/><circle cx="284.47" cy="111.65" r="0.6"/><circle cx="286.60" cy="110.05" r="0.6"/><circle cx="288.74" cy="108.45" r="0.6"/><circle cx="290.87" cy="106.85" r="0.6"/><circle cx="293.01" cy="105.25" r="0.6"/><circle cx="295.14" cy="103.64" r="0.6"/><circle cx="297.28" cy="102.03" r="0.6"/><circle cx="299.42" cy="100.42" r="0.6"/><circle cx="301.55" cy="98.80" r="0.6"/><circle cx="303.69" cy="97.19" r="0.6"/><circle cx="305.82" cy="95.57" r="0.6"/><circle cx="307.96" cy="93.95" r="0.6"/><circle cx="310.09" cy="92.33" r="0.6"/><circle cx="312.23" cy="90.71" r="0.6"/><circle cx="314.37" cy="89.09" r="0.6"/></g>
<g fill="#0000ff" opacity="0.48"><circle cx="43.14" cy="224.69" r="1.18"/><circle cx="45.27" cy="224.66" r="1.18"/><circle cx="47.41" cy="224.60" r="1.18"/><circle cx="49.54" cy="224.53" r="1.18"/><circle cx="51.68" cy="224.43" r="1.18"/><circle cx="53.81" cy="224.31" r="1.18"/><circle cx="55.95" cy="224.17" r="1.18"/><circle cx="58.09" cy="224.01" r="1.18"/><circle cx="60.22" cy="223.83" r="1.18"/><circle cx="62.36" cy="223.62" r="1.18"/><circle cx="64.49" cy="223.39" r="1.18"/><circle cx="66.63" cy="223.15" r="1.18"/><circle cx="68.76" cy="222.88" r="1.18"/><circle cx="70.90" cy="222.59" r="1.18"/><circle cx="73.03" cy="222.28" r="1.18"/><circle cx="75.17" cy="221.95" r="1.18"/><circle cx="77.31" cy="221.59" r="1.18"/><circle cx="79.44" cy="221.22" r="1.18"/><circle cx="81.58" cy="220.82" r="1.18"/><circle cx="83.71" cy="220.41" r="1.18"/><circle cx="85.85" cy="219.97" r="1.18"/><circle cx="87.98" cy="219.51" r="1.18"/><circle cx="90.12" cy="219.04" r="1.18"/><circle cx="92.26" cy="218.54" r="1.18"/><circle cx="94.39" cy="218.02" r="1.18"/><circle cx="96.53" cy="217.48" r="1.18"/><circle cx="98.66" cy="216.92" r="1.18"/><circle cx="100.80" cy="216.35" r="1.18"/><circle cx="102.93" cy="215.75" r="1.18"/><circle cx="105.07" cy="215.13" r="1.18"/><circle cx="107.21" cy="214.49" r="1.18"/><circle cx="109.34" cy="213.84" r="1.18"/><circle cx="111.48" cy="213.16" r="1.18"/><circle cx="113.61" cy="212.46" r="1.18"/><circle cx="115.75" cy="211.75" r="1.18"/><circle cx="117.88" cy="211.02" r="1.18"/><circle cx="120.02" cy="210.27" r="1.18"/><circle cx="122.16" cy="209.50" r="1.18"/><circle cx="124.29" cy="208.71" r="1.18"/><circle cx="126.43" cy="207.90" r="1.18"/><circle cx="128.56" cy="207.08" r="1.18"/><circle cx="130.70" cy="206.24" r="1.18"/><circle cx="132.83" cy="205.38" r="1.18"/><circle cx="134.97" cy="204.50" r="1.18"/><circle cx="137.11" cy="203.60" r="1.18"/><circle cx="139.24" cy="202.69" r="1.18"/><circle cx="141.38" cy="201.76" r="1.18"/><circle cx="143.51" cy="200.82" r="1.18"/><circle cx="145.65" cy="199.85" r="1.18"/><circle cx="147.78" cy="198.88" r="1.18"/><circle cx="149.92" cy="197.88" r="1.18"/><circle cx="152.05" cy="196.87" r="1.18"/><circle cx="154.19" cy="195.84" r="1.18"/><circle cx="156.33" cy="194.80" r="1.18"/><circle cx="158.46" cy="193.74" r="1.18"/><circle cx="160.60" cy="192.67" r="1.18"/><circle cx="162.73" cy="191.58" r="1.18"/><circle cx="164.87" cy="190.48" r="1.18"/><circle cx="167.00" cy="189.36" r="1.18"/><circle cx="169.14" cy="188.23" r="1.18"/><circle cx="171.28" cy="187.08" r="1.18"/><circle cx="173.41" cy="185.92" r="1.18"/><circle cx="175.55" cy="184.75" r="1.18"/><circle cx="177.68" cy="183.56" r="1.18"/><circle cx="179.82" cy="182.36" r="1.18"/><circle cx="181.95" cy="181.15" r="1.18"/><circle cx="184.09" cy="179.92" r="1.18"/><circle cx="186.23" cy="178.68" r="1.18"/><circle cx="188.36" cy="177.43" r="1.18"/><circle cx="190.50" cy="176.16" r="1.18"/><circle cx="192.63" cy="174.89" r="1.18"/><circle cx="194.77" cy="173.60" r="1.18"/><circle cx="196.90" cy="172.30" r="1.18"/><circle cx="199.04" cy="170.99" r="1.18"/><circle cx="201.18" cy="169.67" r="1.18"/><circle cx="203.31" cy="168.33" r="1.18"/><circle cx="205.45" cy="166.99" r="1.18"/><circle cx="207.58" cy="165.63" r="1.18"/><circle cx="209.72" cy="164.27" r="1.18"/><circle cx="211.85" cy="162.89" r="1.18"/><circle cx="213.99" cy="161.51" r="1.18"/><circle cx="216.12" cy="160.12" r="1.18"/><circle cx="218.26" cy="158.71" r="1.18"/><circle cx="220.40" cy="157.30" r="1.18"/><circle cx="222.53" cy="155.88" r="1.18"/><circle cx="224.67" cy="154.44" r="1.18"/><circle cx="226.80" cy="153.01" r="1.18"/><circle cx="228.94" cy="151.56" r="1.18"/><circle cx="231.07" cy="150.10" r="1.18"/><circle cx="233.21" cy="148.64" r="1.18"/><circle cx="235.35" cy="147.17" r="1.18"/><circle cx="237.48" cy="145.69" r="1.18"/><circle cx="239.62" cy="144.20" r="1.18"/><circle cx="241.75" cy="142.71" r="1.18"/><circle cx="243.89" cy="141.21" r="1.18"/><circle cx="246.02" cy="139.70" r="1.18"/><circle cx="248.16" cy="138.18" r="1.18"/><circle cx="250.30" cy="136.66" r="1.18"/><circle cx="252.43" cy="135.14" r="1.18"/><circle cx="254.57" cy="133.61" r="1.18"/><circle cx="256.70" cy="132.07" r="1.18"/><circle cx="258.84" cy="130.53" r="1.18"/><circle cx="260.97" cy="128.98" r="1.18"/><circle cx="263.11" cy="127.42" r="1.18"/><circle cx="265.25" cy="125.87" r="1.18"/><circle cx="267.38" cy="124.30" r="1.18"/><circle cx="269.52" cy="122.73" r="1.18"/><circle cx="271.65" cy="121.16" r="1.18"/><circle cx="273.79" cy="119.59" r="1.18"/><circle cx="275.92" cy="118.01" r="1.18"/><circle cx="278.06" cy="116.42" r="1.18"/><circle cx="280.19" cy="114.84" r="1.18"/><circle cx="282.33" cy="113.24" r="1.18"/><circle cx="284.47" cy="111.65" r="1.18"/><circle cx="286.60" cy="110.05" r="1.18"/><circle cx="288.74" cy="108.45" r="1.18"/><circle cx="290.87" cy="106.85" r="1.18"/><circle cx="293.01" cy="105.25" r="1.18"/><circle cx="295.14" cy="103.64" r="1.18"/><circle cx="297.28" cy="102.03" r="1.18"/><circle cx="299.42" cy="100.42" r="1.18"/><circle cx="301.55" cy="98.80" r="1.18"/><circle cx="303.69" cy="97.19" r="1.18"/><circle cx="305.82" cy="95.57" r="1.18"/><circle cx="307.96" cy="93.95" r="1.18"/><circle cx="310.09" cy="92.33" r="1.18"/><circle cx="312.23" cy="90.71" r="1.18"/><circle cx="314.37" cy="89.09" r="1.18"/><circle cx="316.50" cy="87.47" r="1.18"/><circle cx="318.64" cy="85.85" r="1.18"/><circle cx="320.77" cy="84.22" r="1.18"/><circle cx="322.91" cy="82.60" r="1.18"/><circle cx="325.04" cy="80.97" r="1.18"/><circle cx="327.18" cy="79.35" r="1.18"/><circle cx="329.32" cy="77.73" r="1.18"/><circle cx="331.45" cy="76.10" r="1.18"/><circle cx="333.59" cy="74.48" r="1.18"/><circle cx="335.72" cy="72.86" r="1.18"/><circle cx="337.86" cy="71.23" r="1.18"/><circle cx="339.99" cy="69.61" r="1.18"/><circle cx="342.13" cy="67.99" r="1.18"/><circle cx="344.26" cy="66.37" r="1.18"/><circle cx="346.40" cy="64.75" r="1.18"/><circle cx="348.54" cy="63.13" r="1.18"/><circle cx="350.67" cy="61.52" r="1.18"/><circle cx="352.81" cy="59.90" r="1.18"/><circle cx="354.94" cy="58.29" r="1.18"/><circle cx="357.08" cy="56.68" r="1.18"/><circle cx="359.21" cy="55.07" r="1.18"/></g>
<g fill="#0000ff" opacity="0.5"><circle cx="43.14" cy="224.69" r="0.45"/><circle cx="45.27" cy="224.66" r="0.45"/><circle cx="47.41" cy="224.60" r="0.45"/><circle cx="49.54" cy="224.53" r="0.45"/><circle cx="51.68" cy="224.43" r="0.45"/><circle cx="53.81" cy="224.31" r="0.45"/><circle cx="55.95" cy="224.17" r="0.45"/><circle cx="58.09" cy="224.01" r="0.45"/><circle cx="60.22" cy="223.83" r="0.45"/><circle cx="62.36" cy="223.62" r="0.45"/><circle cx="64.49" cy="223.39" r="0.45"/><circle cx="66.63" cy="223.15" r="0.45"/><circle cx="68.76" cy="222.88" r="0.45"/><circle cx="70.90" cy="222.59" r="0.45"/><circle cx="73.03" cy="222.28" r="0.45"/><circle cx="75.17" cy="221.95" r="0.45"/><circle cx="77.31" cy="221.59" r="0.45"/><circle cx="79.44" cy="221.22" r="0.45"/><circle cx="81.58" cy="220.82" r="0.45"/><circle cx="83.71" cy="220.41" r="0.45"/><circle cx="85.85" cy="219.97" r="0.45"/><circle cx="87.98" cy="219.51" r="0.45"/><circle cx="90.12" cy="219.04" r="0.45"/><circle cx="92.26" cy="218.54" r="0.45"/><circle cx="94.39" cy="218.02" r="0.45"/><circle cx="96.53" cy="217.48" r="0.45"/><circle cx="98.66" cy="216.92" r="0.45"/><circle cx="100.80" cy="216.35" r="0.45"/><circle cx="102.93" cy="215.75" r="0.45"/><circle cx="105.07" cy="215.13" r="0.45"/><circle cx="107.21" cy="214.49" r="0.45"/><circle cx="109.34" cy="213.84" r="0.45"/><circle cx="111.48" cy="213.16" r="0.45"/><circle cx="113.61" cy="212.46" r="0.45"/><circle cx="115.75" cy="211.75" r="0.45"/><circle cx="117.88" cy="211.02" r="0.45"/><circle cx="120.02" cy="210.27" r="0.45"/><circle cx="122.16" cy="209.50" r="0.45"/><circle cx="124.29" cy="208.71" r="0.45"/><circle cx="126.43" cy="207.90" r="0.45"/><circle cx="128.56" cy="207.08" r="0.45"/><circle cx="130.70" cy="206.24" r="0.45"/><circle cx="132.83" cy="205.38" r="0.45"/><circle cx="134.97" cy="204.50" r="0.45"/><circle cx="137.11" cy="203.60" r="0.45"/><circle cx="139.24" cy="202.69" r="0.45"/><circle cx="141.38" cy="201.76" r="0.45"/><circle cx="143.51" cy="200.82" r="0.45"/><circle cx="145.65" cy="199.85" r="0.45"/><circle cx="147.78" cy="198.88" r="0.45"/><circle cx="149.92" cy="197.88" r="0.45"/><circle cx="152.05" cy="196.87" r="0.45"/><circle cx="154.19" cy="195.84" r="0.45"/><circle cx="156.33" cy="194.80" r="0.45"/><circle cx="158.46" cy="193.74" r="0.45"/><circle cx="160.60" cy="192.67" r="0.45"/><circle cx="162.73" cy="191.58" r="0.45"/><circle cx="164.87" cy="190.48" r="0.45"/><circle cx="167.00" cy="189.36" r="0.45"/><circle cx="169.14" cy="188.23" r="0.45"/><circle cx="171.28" cy="187.08" r="0.45"/><circle cx="173.41" cy="185.92" r="0.45"/><circle cx="175.55" cy="184.75" r="0.45"/><circle cx="177.68" cy="183.56" r="0.45"/><circle cx="179.82" cy="182.36" r="0.45"/><circle cx="181.95" cy="181.15" r="0.45"/><circle cx="184.09" cy="179.92" r="0.45"/><circle cx="186.23" cy="178.68" r="0.45"/><circle cx="188.36" cy="177.43" r="0.45"/><circle cx="190.50" cy="176.16" r="0.45"/><circle cx="192.63" cy="174.89" r="0.45"/><circle cx="194.77" cy="173.60" r="0.45"/><circle cx="196.90" cy="172.30" r="0.45"/><circle cx="199.04" cy="170.99" r="0.45"/><circle cx="201.18" cy="169.67" r="0.45"/><circle cx="203.31" cy="168.33" r="0.45"/><circle cx="205.45" cy="166.99" r="0.45"/><circle cx="207.58" cy="165.63" r="0.45"/><circle cx="209.72" cy="164.27" r="0.45"/><circle cx="211.85" cy="162.89" r="0.45"/><circle cx="213.99" cy="161.51" r="0.45"/><circle cx="216.12" cy="160.12" r="0.45"/><circle cx="218.26" cy="158.71" r="0.45"/><circle cx="220.40" cy="157.30" r="0.45"/><circle cx="222.53" cy="155.88" r="0.45"/><circle cx="224.67" cy="154.44" r="0.45"/><circle cx="226.80" cy="153.01" r="0.45"/><circle cx="228.94" cy="151.56" r="0.45"/><circle cx="231.07" cy="150.10" r="0.45"/><circle cx="233.21" cy="148.64" r="0.45"/><circle cx="235.35" cy="147.17" r="0.45"/><circle cx="237.48" cy="145.69" r="0.45"/><circle cx="239.62" cy="144.20" r="0.45"/><circle cx="241.75" cy="142.71" r="0.45"/><circle cx="243.89" cy="141.21" r="0.45"/><circle cx="246.02" cy="139.70" r="0.45"/><circle cx="248.16" cy="138.18" r="0.45"/><circle cx="250.30" cy="136.66" r="0.45"/><circle cx="252.43" cy="135.14" r="0.45"/><circle cx="254.57" cy="133.61" r="0.45"/><circle cx="256.70" cy="132.07" r="0.45"/><circle cx="258.84" cy="130.53" r="0.45"/><circle cx="260.97" cy="128.98" r="0.45"/><circle cx="263.11" cy="127.42" r="0.45"/><circle cx="265.25" cy="125.87" r="0.45"/><circle cx="267.38" cy="124.30" r="0.45"/><circle cx="269.52" cy="122.73" r="0.45"/><circle cx="271.65" cy="121.16" r="0.45"/><circle cx="273.79" cy="119.59" r="0.45"/><circle cx="275.92" cy="118.01" r="0.45"/><circle cx="278.06" cy="116.42" r="0.45"/><circle cx="280.19" cy="114.84" r="0.45"/><circle cx="282.33" cy="113.24" r="0.45"/><circle cx="284.47" cy="111.65" r="0.45"/><circle cx="286.60" cy="110.05" r="0.45"/><circle cx="288.74" cy="108.45" r="0.45"/><circle cx="290.87" cy="106.85" r="0.45"/><circle cx="293.01" cy="105.25" r="0.45"/><circle cx="295.14" cy="103.64" r="0.45"/><circle cx="297.28" cy="102.03" r="0.45"/><circle cx="299.42" cy="100.42" r="0.45"/><circle cx="301.55" cy="98.80" r="0.45"/><circle cx="303.69" cy="97.19" r="0.45"/><circle cx="305.82" cy="95.57" r="0.45"/><circle cx="307.96" cy="93.95" r="0.45"/><circle cx="310.09" cy="92.33" r="0.45"/><circle cx="312.23" cy="90.71" r="0.45"/><circle cx="314.37" cy="89.09" r="0.45"/><circle cx="316.50" cy="87.47" r="0.45"/><circle cx="318.64" cy="85.85" r="0.45"/><circle cx="320.77" cy="84.22" r="0.45"/><circle cx="322.91" cy="82.60" r="0.45"/><circle cx="325.04" cy="80.97" r="0.45"/><circle cx="327.18" cy="79.35" r="0.45"/><circle cx="329.32" cy="77.73" r="0.45"/><circle cx="331.45" cy="76.10" r="0.45"/><circle cx="333.59" cy="74.48" r="0.45"/><circle cx="335.72" cy="72.86" r="0.45"/><circle cx="337.86" cy="71.23" r="0.45"/><circle cx="339.99" cy="69.61" r="0.45"/><circle cx="342.13" cy="67.99" r="0.45"/><circle cx="344.26" cy="66.37" r="0.45"/><circle cx="346.40" cy="64.75" r="0.45"/><circle cx="348.54" cy="63.13" r="0.45"/><circle cx="350.67" cy="61.52" r="0.45"/><circle cx="352.81" cy="59.90" r="0.45"/><circle cx="354.94" cy="58.29" r="0.45"/><circle cx="357.08" cy="56.68" r="0.45"/><circle cx="359.21" cy="55.07" r="0.45"/></g>
<g fill="#e8e800" opacity="0.8"><circle cx="43.14" cy="224.69" r="0.8"/><circle cx="45.27" cy="224.66" r="0.8"/><circle cx="47.41" cy="224.60" r="0.8"/><circle cx="49.54" cy="224.52" r="0.8"/><circle cx="51.68" cy="224.43" r="0.8"/><circle cx="53.81" cy="224.31" r="0.8"/><circle cx="55.95" cy="224.16" r="0.8"/><circle cx="58.09" cy="224.00" r="0.8"/><circle cx="60.22" cy="223.81" r="0.8"/><circle cx="62.36" cy="223.61" r="0.8"/><circle cx="64.49" cy="223.38" r="0.8"/><circle cx="66.63" cy="223.13" r="0.8"/><circle cx="68.76" cy="222.85" r="0.8"/><circle cx="70.90" cy="222.56" r="0.8"/><circle cx="73.03" cy="222.25" r="0.8"/><circle cx="75.17" cy="221.91" r="0.8"/><circle cx="77.31" cy="221.55" r="0.8"/><circle cx="79.44" cy="221.17" r="0.8"/><circle cx="81.58" cy="220.77" r="0.8"/><circle cx="83.71" cy="220.35" r="0.8"/><circle cx="85.85" cy="219.91" r="0.8"/><circle cx="87.98" cy="219.44" r="0.8"/><circle cx="90.12" cy="218.96" r="0.8"/><circle cx="92.26" cy="218.46" r="0.8"/><circle cx="94.39" cy="217.93" r="0.8"/><circle cx="96.53" cy="217.39" r="0.8"/><circle cx="98.66" cy="216.82" r="0.8"/><circle cx="100.80" cy="216.23" r="0.8"/><circle cx="102.93" cy="215.63" r="0.8"/><circle cx="105.07" cy="215.00" r="0.8"/><circle cx="107.21" cy="214.36" r="0.8"/><circle cx="109.34" cy="213.69" r="0.8"/><circle cx="111.48" cy="213.01" r="0.8"/><circle cx="113.61" cy="212.30" r="0.8"/><circle cx="115.75" cy="211.58" r="0.8"/><circle cx="117.88" cy="210.84" r="0.8"/><circle cx="120.02" cy="210.07" r="0.8"/><circle cx="122.16" cy="209.29" r="0.8"/><circle cx="124.29" cy="208.49" r="0.8"/><circle cx="126.43" cy="207.68" r="0.8"/><circle cx="128.56" cy="206.84" r="0.8"/><circle cx="130.70" cy="205.99" r="0.8"/><circle cx="132.83" cy="205.12" r="0.8"/><circle cx="134.97" cy="204.23" r="0.8"/><circle cx="137.11" cy="203.32" r="0.8"/><circle cx="139.24" cy="202.40" r="0.8"/><circle cx="141.38" cy="201.46" r="0.8"/><circle cx="143.51" cy="200.50" r="0.8"/><circle cx="145.65" cy="199.52" r="0.8"/><circle cx="147.78" cy="198.53" r="0.8"/><circle cx="149.92" cy="197.52" r="0.8"/><circle cx="152.05" cy="196.50" r="0.8"/><circle cx="154.19" cy="195.46" r="0.8"/><circle cx="156.33" cy="194.40" r="0.8"/><circle cx="158.46" cy="193.33" r="0.8"/><circle cx="160.60" cy="192.25" r="0.8"/><circle cx="162.73" cy="191.14" r="0.8"/><circle cx="164.87" cy="190.03" r="0.8"/><circle cx="167.00" cy="188.90" r="0.8"/><circle cx="169.14" cy="187.75" r="0.8"/><circle cx="171.28" cy="186.59" r="0.8"/><circle cx="173.41" cy="185.42" r="0.8"/><circle cx="175.55" cy="184.23" r="0.8"/><circle cx="177.68" cy="183.03" r="0.8"/><circle cx="179.82" cy="181.82" r="0.8"/><circle cx="181.95" cy="180.59" r="0.8"/><circle cx="184.09" cy="179.35" r="0.8"/><circle cx="186.23" cy="178.10" r="0.8"/><circle cx="188.36" cy="176.83" r="0.8"/><circle cx="190.50" cy="175.56" r="0.8"/><circle cx="192.63" cy="174.27" r="0.8"/><circle cx="194.77" cy="172.97" r="0.8"/><circle cx="196.90" cy="171.66" r="0.8"/><circle cx="199.04" cy="170.33" r="0.8"/><circle cx="201.18" cy="169.00" r="0.8"/><circle cx="203.31" cy="167.66" r="0.8"/><circle cx="205.45" cy="166.30" r="0.8"/><circle cx="207.58" cy="164.94" r="0.8"/><circle cx="209.72" cy="163.56" r="0.8"/><circle cx="211.85" cy="162.18" r="0.8"/><circle cx="213.99" cy="160.79" r="0.8"/><circle cx="216.12" cy="159.39" r="0.8"/><circle cx="218.26" cy="157.98" r="0.8"/><circle cx="220.40" cy="156.56" r="0.8"/><circle cx="222.53" cy="155.13" r="0.8"/><circle cx="224.67" cy="153.70" r="0.8"/><circle cx="226.80" cy="152.25" r="0.8"/><circle cx="228.94" cy="150.81" r="0.8"/><circle cx="231.07" cy="149.35" r="0.8"/><circle cx="233.21" cy="147.89" r="0.8"/><circle cx="235.35" cy="146.42" r="0.8"/><circle cx="237.48" cy="144.94" r="0.8"/><circle cx="239.62" cy="143.46" r="0.8"/><circle cx="241.75" cy="141.97" r="0.8"/><circle cx="243.89" cy="140.48" r="0.8"/><circle cx="246.02" cy="138.98" r="0.8"/><circle cx="248.16" cy="137.47" r="0.8"/><circle cx="250.30" cy="135.97" r="0.8"/><circle cx="252.43" cy="134.45" r="0.8"/><circle cx="254.57" cy="132.94" r="0.8"/></g>
<g fill="#000" opacity="0.28"><circle cx="43.14" cy="224.69" r="0.36"/><circle cx="45.27" cy="224.66" r="0.36"/><circle cx="47.41" cy="224.60" r="0.36"/><circle cx="49.54" cy="224.52" r="0.36"/><circle cx="51.68" cy="224.43" r="0.36"/><circle cx="53.81" cy="224.31" r="0.36"/><circle cx="55.95" cy="224.16" r="0.36"/><circle cx="58.09" cy="224.00" r="0.36"/><circle cx="60.22" cy="223.81" r="0.36"/><circle cx="62.36" cy="223.61" r="0.36"/><circle cx="64.49" cy="223.38" r="0.36"/><circle cx="66.63" cy="223.13" r="0.36"/><circle cx="68.76" cy="222.85" r="0.36"/><circle cx="70.90" cy="222.56" r="0.36"/><circle cx="73.03" cy="222.25" r="0.36"/><circle cx="75.17" cy="221.91" r="0.36"/><circle cx="77.31" cy="221.55" r="0.36"/><circle cx="79.44" cy="221.17" r="0.36"/><circle cx="81.58" cy="220.77" r="0.36"/><circle cx="83.71" cy="220.35" r="0.36"/><circle cx="85.85" cy="219.91" r="0.36"/><circle cx="87.98" cy="219.44" r="0.36"/><circle cx="90.12" cy="218.96" r="0.36"/><circle cx="92.26" cy="218.46" r="0.36"/><circle cx="94.39" cy="217.93" r="0.36"/><circle cx="96.53" cy="217.39" r="0.36"/><circle cx="98.66" cy="216.82" r="0.36"/><circle cx="100.80" cy="216.23" r="0.36"/><circle cx="102.93" cy="215.63" r="0.36"/><circle cx="105.07" cy="215.00" r="0.36"/><circle cx="107.21" cy="214.36" r="0.36"/><circle cx="109.34" cy="213.69" r="0.36"/><circle cx="111.48" cy="213.01" r="0.36"/><circle cx="113.61" cy="212.30" r="0.36"/><circle cx="115.75" cy="211.58" r="0.36"/><circle cx="117.88" cy="210.84" r="0.36"/><circle cx="120.02" cy="210.07" r="0.36"/><circle cx="122.16" cy="209.29" r="0.36"/><circle cx="124.29" cy="208.49" r="0.36"/><circle cx="126.43" cy="207.68" r="0.36"/><circle cx="128.56" cy="206.84" r="0.36"/><circle cx="130.70" cy="205.99" r="0.36"/><circle cx="132.83" cy="205.12" r="0.36"/><circle cx="134.97" cy="204.23" r="0.36"/><circle cx="137.11" cy="203.32" r="0.36"/><circle cx="139.24" cy="202.40" r="0.36"/><circle cx="141.38" cy="201.46" r="0.36"/><circle cx="143.51" cy="200.50" r="0.36"/><circle cx="145.65" cy="199.52" r="0.36"/><circle cx="147.78" cy="198.53" r="0.36"/><circle cx="149.92" cy="197.52" r="0.36"/><circle cx="152.05" cy="196.50" r="0.36"/><circle cx="154.19" cy="195.46" r="0.36"/><circle cx="156.33" cy="194.40" r="0.36"/><circle cx="158.46" cy="193.33" r="0.36"/><circle cx="160.60" cy="192.25" r="0.36"/><circle cx="162.73" cy="191.14" r="0.36"/><circle cx="164.87" cy="190.03" r="0.36"/><circle cx="167.00" cy="188.90" r="0.36"/><circle cx="169.14" cy="187.75" r="0.36"/><circle cx="171.28" cy="186.59" r="0.36"/><circle cx="173.41" cy="185.42" r="0.36"/><circle cx="175.55" cy="184.23" r="0.36"/><circle cx="177.68" cy="183.03" r="0.36"/><circle cx="179.82" cy="181.82" r="0.36"/><circle cx="181.95" cy="180.59" r="0.36"/><circle cx="184.09" cy="179.35" r="0.36"/><circle cx="186.23" cy="178.10" r="0.36"/><circle cx="188.36" cy="176.83" r="0.36"/><circle cx="190.50" cy="175.56" r="0.36"/><circle cx="192.63" cy="174.27" r="0.36"/><circle cx="194.77" cy="172.97" r="0.36"/><circle cx="196.90" cy="171.66" r="0.36"/><circle cx="199.04" cy="170.33" r="0.36"/><circle cx="201.18" cy="169.00" r="0.36"/><circle cx="203.31" cy="167.66" r="0.36"/><circle cx="205.45" cy="166.30" r="0.36"/><circle cx="207.58" cy="164.94" r="0.36"/><circle cx="209.72" cy="163.56" r="0.36"/><circle cx="211.85" cy="162.18" r="0.36"/><circle cx="213.99" cy="160.79" r="0.36"/><circle cx="216.12" cy="159.39" r="0.36"/><circle cx="218.26" cy="157.98" r="0.36"/><circle cx="220.40" cy="156.56" r="0.36"/><circle cx="222.53" cy="155.13" r="0.36"/><circle cx="224.67" cy="153.70" r="0.36"/><circle cx="226.80" cy="152.25" r="0.36"/><circle cx="228.94" cy="150.81" r="0.36"/><circle cx="231.07" cy="149.35" r="0.36"/><circle cx="233.21" cy="147.89" r="0.36"/><circle cx="235.35" cy="146.42" r="0.36"/><circle cx="237.48" cy="144.94" r="0.36"/><circle cx="239.62" cy="143.46" r="0.36"/><circle cx="241.75" cy="141.97" r="0.36"/><circle cx="243.89" cy="140.48" r="0.36"/><circle cx="246.02" cy="138.98" r="0.36"/><circle cx="248.16" cy="137.47" r="0.36"/><circle cx="250.30" cy="135.97" r="0.36"/><circle cx="252.43" cy="134.45" r="0.36"/><circle cx="254.57" cy="132.94" r="0.36"/></g>
<path fill="none" stroke="#4040b0" stroke-width="1.5" opacity="0.7" d="M41.00 224.70 L43.74 224.68 L46.48 224.63 L49.21 224.54 L51.95 224.42 L54.69 224.26 L57.43 224.06 L60.17 223.83 L62.90 223.56 L65.64 223.26 L68.38 222.93 L71.12 222.56 L73.86 222.15 L76.59 221.71 L79.33 221.23 L82.07 220.73 L84.81 220.18 L87.55 219.60 L90.28 218.99 L93.02 218.35 L95.76 217.67 L98.50 216.95 L101.24 216.21 L103.97 215.43 L106.71 214.62 L109.45 213.78 L112.19 212.90 L114.93 211.99 L117.66 211.06 L120.40 210.09 L123.14 209.09 L125.88 208.05 L128.62 206.99 L131.36 205.90 L134.09 204.78 L136.83 203.63 L139.57 202.45 L142.31 201.24 L145.05 200.01 L147.78 198.74"/>
<path fill="none" stroke="#4040b0" stroke-width="1.5" opacity="0.5" d="M147.78 198.74 L148.60 198.36 L149.43 197.97 L150.25 197.58 L151.07 197.19 L151.89 196.80 L152.71 196.40 L153.53 196.00 L154.35 195.60 L155.18 195.20 L156.00 194.79 L156.82 194.38 L157.64 193.97 L158.46 193.56 L159.28 193.14 L160.10 192.72 L160.93 192.30 L161.75 191.88 L162.57 191.45 L163.39 191.03 L164.21 190.60 L165.03 190.17 L165.85 189.73 L166.68 189.30 L167.50 188.86 L168.32 188.42 L169.14 187.98 L169.96 187.53 L170.78 187.08 L171.60 186.63 L172.43 186.18 L173.25 185.73 L174.07 185.27 L174.89 184.82 L175.71 184.36 L176.53 183.89 L177.35 183.43 L178.18 182.96 L179.00 182.50 L179.82 182.03"/>
<path fill="none" stroke="#4040b0" stroke-width="1.4" opacity="0.3" d="M179.82 182.03 L180.64 181.55 L181.46 181.08 L182.28 180.60 L183.10 180.13 L183.93 179.65 L184.75 179.16 L185.57 178.68 L186.39 178.19 L187.21 177.71 L188.03 177.22 L188.85 176.72 L189.68 176.23 L190.50 175.74 L191.32 175.24 L192.14 174.74 L192.96 174.24 L193.78 173.74 L194.60 173.23 L195.43 172.72 L196.25 172.22 L197.07 171.71 L197.89 171.20 L198.71 170.68 L199.53 170.17 L200.35 169.65 L201.18 169.13 L202.00 168.61 L202.82 168.09 L203.64 167.57 L204.46 167.04 L205.28 166.51 L206.10 165.98 L206.92 165.45 L207.75 164.92 L208.57 164.39 L209.39 163.85 L210.21 163.32 L211.03 162.78 L211.85 162.24"/>
<g fill="#1818f0" opacity="0.9"><circle cx="43.14" cy="224.69" r="0.85"/><circle cx="45.27" cy="224.66" r="0.85"/><circle cx="47.41" cy="224.60" r="0.85"/><circle cx="49.54" cy="224.53" r="0.85"/><circle cx="51.68" cy="224.43" r="0.85"/><circle cx="53.81" cy="224.31" r="0.85"/><circle cx="55.95" cy="224.17" r="0.85"/><circle cx="58.09" cy="224.01" r="0.85"/><circle cx="60.22" cy="223.82" r="0.85"/><circle cx="62.36" cy="223.62" r="0.85"/><circle cx="64.49" cy="223.39" r="0.85"/><circle cx="66.63" cy="223.14" r="0.85"/><circle cx="68.76" cy="222.88" r="0.85"/><circle cx="70.90" cy="222.58" r="0.85"/><circle cx="73.03" cy="222.27" r="0.85"/><circle cx="75.17" cy="221.94" r="0.85"/><circle cx="77.31" cy="221.58" r="0.85"/><circle cx="79.44" cy="221.21" r="0.85"/><circle cx="81.58" cy="220.81" r="0.85"/><circle cx="83.71" cy="220.39" r="0.85"/><circle cx="85.85" cy="219.95" r="0.85"/><circle cx="87.98" cy="219.49" r="0.85"/><circle cx="90.12" cy="219.01" r="0.85"/><circle cx="92.26" cy="218.50" r="0.85"/><circle cx="94.39" cy="217.98" r="0.85"/><circle cx="96.53" cy="217.43" r="0.85"/><circle cx="98.66" cy="216.87" r="0.85"/><circle cx="100.80" cy="216.28" r="0.85"/><circle cx="102.93" cy="215.67" r="0.85"/><circle cx="105.07" cy="215.05" r="0.85"/><circle cx="107.21" cy="214.40" r="0.85"/><circle cx="109.34" cy="213.73" r="0.85"/><circle cx="111.48" cy="213.04" r="0.85"/><circle cx="113.61" cy="212.33" r="0.85"/><circle cx="115.75" cy="211.60" r="0.85"/><circle cx="117.88" cy="210.85" r="0.85"/><circle cx="120.02" cy="210.08" r="0.85"/><circle cx="122.16" cy="209.28" r="0.85"/><circle cx="124.29" cy="208.47" r="0.85"/><circle cx="126.43" cy="207.64" r="0.85"/><circle cx="128.56" cy="206.79" r="0.85"/><circle cx="130.70" cy="205.92" r="0.85"/><circle cx="132.83" cy="205.03" r="0.85"/><circle cx="134.97" cy="204.12" r="0.85"/><circle cx="137.11" cy="203.19" r="0.85"/></g>
<g fill="#0808f8" opacity="0.95"><circle cx="139.24" cy="202.25" r="0.92"/><circle cx="141.38" cy="201.28" r="0.92"/><circle cx="143.51" cy="200.29" r="0.92"/><circle cx="145.65" cy="199.29" r="0.92"/><circle cx="147.78" cy="198.26" r="0.92"/><circle cx="149.92" cy="197.22" r="0.92"/><circle cx="152.05" cy="196.16" r="0.92"/><circle cx="154.19" cy="195.08" r="0.92"/><circle cx="156.33" cy="193.98" r="0.92"/><circle cx="158.46" cy="192.86" r="0.92"/><circle cx="160.60" cy="191.72" r="0.92"/><circle cx="162.73" cy="190.57" r="0.92"/><circle cx="164.87" cy="189.40" r="0.92"/><circle cx="167.00" cy="188.21" r="0.92"/><circle cx="169.14" cy="187.00" r="0.92"/></g>
<g fill="#0000ff" opacity="1"><circle cx="171.28" cy="185.78" r="0.97"/><circle cx="173.41" cy="184.54" r="0.97"/><circle cx="175.55" cy="183.28" r="0.97"/><circle cx="177.68" cy="182.00" r="0.97"/><circle cx="179.82" cy="180.71" r="0.97"/><circle cx="181.95" cy="179.40" r="0.97"/><circle cx="184.09" cy="178.07" r="0.97"/><circle cx="186.23" cy="176.73" r="0.97"/><circle cx="188.36" cy="175.37" r="0.97"/><circle cx="190.50" cy="174.00" r="0.97"/><circle cx="192.63" cy="172.61" r="0.97"/><circle cx="194.77" cy="171.20" r="0.97"/><circle cx="196.90" cy="169.77" r="0.97"/><circle cx="199.04" cy="168.34" r="0.97"/><circle cx="201.18" cy="166.88" r="0.97"/><circle cx="203.31" cy="165.41" r="0.97"/><circle cx="205.45" cy="163.93" r="0.97"/><circle cx="207.58" cy="162.43" r="0.97"/><circle cx="209.72" cy="160.92" r="0.97"/><circle cx="211.85" cy="159.39" r="0.97"/><circle cx="213.99" cy="157.84" r="0.97"/><circle cx="216.12" cy="156.29" r="0.97"/><circle cx="218.26" cy="154.72" r="0.97"/><circle cx="220.40" cy="153.13" r="0.97"/><circle cx="222.53" cy="151.53" r="0.97"/><circle cx="224.67" cy="149.92" r="0.97"/><circle cx="226.80" cy="148.30" r="0.97"/><circle cx="228.94" cy="146.66" r="0.97"/><circle cx="231.07" cy="145.01" r="0.97"/><circle cx="233.21" cy="143.35" r="0.97"/><circle cx="235.35" cy="141.67" r="0.97"/><circle cx="237.48" cy="139.98" r="0.97"/><circle cx="239.62" cy="138.28" r="0.97"/><circle cx="241.75" cy="136.57" r="0.97"/><circle cx="243.89" cy="134.85" r="0.97"/><circle cx="246.02" cy="133.11" r="0.97"/><circle cx="248.16" cy="131.37" r="0.97"/><circle cx="250.30" cy="129.61" r="0.97"/><circle cx="252.43" cy="127.84" r="0.97"/><circle cx="254.57" cy="126.07" r="0.97"/><circle cx="256.70" cy="124.28" r="0.97"/><circle cx="258.84" cy="122.48" r="0.97"/><circle cx="260.97" cy="120.67" r="0.97"/><circle cx="263.11" cy="118.86" r="0.97"/><circle cx="265.25" cy="117.03" r="0.97"/><circle cx="267.38" cy="115.19" r="0.97"/><circle cx="269.52" cy="113.35" r="0.97"/><circle cx="271.65" cy="111.50" r="0.97"/><circle cx="273.79" cy="109.64" r="0.97"/><circle cx="275.92" cy="107.77" r="0.97"/><circle cx="278.06" cy="105.89" r="0.97"/><circle cx="280.19" cy="104.01" r="0.97"/><circle cx="282.33" cy="102.11" r="0.97"/><circle cx="284.47" cy="100.21" r="0.97"/><circle cx="286.60" cy="98.31" r="0.97"/><circle cx="288.74" cy="96.40" r="0.97"/><circle cx="290.87" cy="94.48" r="0.97"/><circle cx="293.01" cy="92.55" r="0.97"/><circle cx="295.14" cy="90.62" r="0.97"/><circle cx="297.28" cy="88.69" r="0.97"/><circle cx="299.42" cy="86.74" r="0.97"/><circle cx="301.55" cy="84.80" r="0.97"/><circle cx="303.69" cy="82.85" r="0.97"/><circle cx="305.82" cy="80.89" r="0.97"/><circle cx="307.96" cy="78.93" r="0.97"/><circle cx="310.09" cy="76.97" r="0.97"/><circle cx="312.23" cy="75.00" r="0.97"/><circle cx="314.37" cy="73.03" r="0.97"/><circle cx="316.50" cy="71.06" r="0.97"/><circle cx="318.64" cy="69.08" r="0.97"/><circle cx="320.77" cy="67.11" r="0.97"/><circle cx="322.91" cy="65.13" r="0.97"/><circle cx="325.04" cy="63.14" r="0.97"/><circle cx="327.18" cy="61.16" r="0.97"/><circle cx="329.32" cy="59.18" r="0.97"/><circle cx="331.45" cy="57.19" r="0.97"/><circle cx="333.59" cy="55.20" r="0.97"/><circle cx="335.72" cy="53.22" r="0.97"/><circle cx="337.86" cy="51.23" r="0.97"/><circle cx="339.99" cy="49.25" r="0.97"/><circle cx="342.13" cy="47.26" r="0.97"/><circle cx="344.26" cy="45.28" r="0.97"/><circle cx="346.40" cy="43.29" r="0.97"/><circle cx="348.54" cy="41.31" r="0.97"/><circle cx="350.67" cy="39.34" r="0.97"/><circle cx="352.81" cy="37.36" r="0.97"/><circle cx="354.94" cy="35.38" r="0.97"/><circle cx="357.08" cy="33.41" r="0.97"/><circle cx="359.21" cy="31.45" r="0.97"/></g>
<path fill="none" stroke="#0c0c60" stroke-width="1.5" opacity="0.45" d="M41.00 224.70 L41.99 224.70 L42.97 224.69 L43.96 224.68 L44.94 224.66 L45.93 224.64 L46.91 224.62 L47.90 224.59 L48.89 224.55 L49.87 224.51 L50.86 224.47 L51.84 224.42 L52.83 224.37 L53.81 224.31 L54.80 224.25 L55.79 224.18 L56.77 224.11 L57.76 224.04 L58.74 223.95 L59.73 223.87 L60.71 223.78 L61.70 223.69 L62.69 223.59 L63.67 223.48 L64.66 223.38 L65.64 223.26 L66.63 223.15 L67.61 223.03 L68.60 222.90 L69.59 222.77 L70.57 222.63 L71.56 222.49 L72.54 222.35 L73.53 222.20 L74.51 222.05 L75.50 221.89 L76.48 221.73 L77.47 221.56 L78.46 221.39 L79.44 221.22"/>
<path fill="none" stroke="#0c0c60" stroke-width="1.4" opacity="0.3" d="M79.44 221.22 L80.10 221.10 L80.76 220.97 L81.41 220.85 L82.07 220.73 L82.73 220.60 L83.38 220.47 L84.04 220.34 L84.70 220.20 L85.36 220.07 L86.01 219.93 L86.67 219.79 L87.33 219.65 L87.98 219.51 L88.64 219.36 L89.30 219.22 L89.96 219.07 L90.61 218.92 L91.27 218.76 L91.93 218.61 L92.58 218.45 L93.24 218.29 L93.90 218.13 L94.56 217.97 L95.21 217.81 L95.87 217.64 L96.53 217.47 L97.18 217.30 L97.84 217.13 L98.50 216.95 L99.16 216.78 L99.81 216.60 L100.47 216.42 L101.13 216.24 L101.78 216.06 L102.44 215.87 L103.10 215.68 L103.76 215.49 L104.41 215.30 L105.07 215.11"/>
<path fill="none" stroke="#101070" stroke-width="1.3" opacity="0.12" d="M105.07 215.11 L106.17 214.78 L107.26 214.45 L108.36 214.12 L109.45 213.78 L110.55 213.43 L111.64 213.08 L112.74 212.72 L113.83 212.36 L114.93 211.99 L116.02 211.62 L117.12 211.25 L118.21 210.86 L119.31 210.48 L120.40 210.09 L121.50 209.69 L122.59 209.29 L123.69 208.88 L124.78 208.47 L125.88 208.05 L126.97 207.63 L128.07 207.21 L129.16 206.78 L130.26 206.34 L131.36 205.90 L132.45 205.46 L133.55 205.01 L134.64 204.55 L135.74 204.09 L136.83 203.63 L137.93 203.16 L139.02 202.69 L140.12 202.21 L141.21 201.73 L142.31 201.24 L143.40 200.75 L144.50 200.26 L145.59 199.76 L146.69 199.25 L147.78 198.74"/>
<g fill="#ffff00"><circle cx="256.5" cy="130.6" r="1.0"/><circle cx="277.9" cy="115.6" r="1.0"/><circle cx="299.5" cy="100.2" r="1.0"/><circle cx="320.4" cy="84.2" r="1.0"/><circle cx="342" cy="70.6" r="1.0"/></g>
<g fill="#0000ff"><circle cx="256.5" cy="120.5" r="1.1"/><circle cx="277.9" cy="100.9" r="1.1"/><circle cx="299.2" cy="80.1" r="1.1"/><circle cx="320.5" cy="58.5" r="1.1"/><circle cx="341.9" cy="36.5" r="1.1"/></g>
<g fill="#ff00ff"><circle cx="256.9" cy="206.6" r="1.05"/><circle cx="277.9" cy="202.2" r="1.05"/><circle cx="299.4" cy="198.0" r="1.05"/><circle cx="320.5" cy="192.6" r="1.05"/><circle cx="342.3" cy="186.5" r="1.05"/></g>
<rect x="107.65" y="15.06" width="111.85" height="75.81" fill="#fff"/>
<path fill="none" stroke="#00f000" stroke-width="1.05" d="M107.65 90.87 L108.86 90.86 L110.07 90.81 L111.28 90.74 L112.49 90.64 L113.70 90.52 L114.91 90.36 L116.11 90.18 L117.32 89.96 L118.53 89.72 L119.74 89.45 L120.95 89.15 L122.16 88.83 L123.37 88.47 L124.58 88.09 L125.79 87.68 L127.00 87.24 L128.21 86.77 L129.42 86.28 L130.63 85.75 L131.84 85.20 L133.04 84.62 L134.25 84.01 L135.46 83.37 L136.67 82.71 L137.88 82.02 L139.09 81.30 L140.30 80.55 L141.51 79.77 L142.72 78.96 L143.93 78.13 L145.14 77.27 L146.35 76.38 L147.56 75.47 L148.77 74.53 L149.97 73.56 L151.18 72.56 L152.39 71.54 L153.60 70.49 L154.81 69.41 L156.02 68.31 L157.23 67.18 L158.44 66.03 L159.65 64.85 L160.86 63.65 L162.07 62.42 L163.28 61.16 L164.49 59.88 L165.70 58.58 L166.90 57.26 L168.11 55.91 L169.32 54.54 L170.53 53.14 L171.74 51.73 L172.95 50.29 L174.16 48.84 L175.37 47.36 L176.58 45.87 L177.79 44.35 L179.00 42.82 L180.21 41.27 L181.42 39.71 L182.63 38.13 L183.83 36.53 L185.04 34.93 L186.25 33.30 L187.46 31.67 L188.67 30.03 L189.88 28.37 L191.09 26.71"/>
<g fill="#00dd00"><circle cx="163.57" cy="60.85" r="1.2"/><circle cx="169.17" cy="54.72" r="1.2"/><circle cx="174.76" cy="48.11" r="1.2"/><circle cx="180.35" cy="41.09" r="1.2"/><circle cx="185.94" cy="33.72" r="1.2"/></g>
<path d="M206.4 15.06V90.87" stroke="#222" stroke-width="1" stroke-dasharray="1.75 0.65" fill="none"/>
<g stroke="#222" stroke-width="1" fill="none">
<rect x="107.65" y="15.06" width="111.85" height="75.81"/>
<path d="M135.61 90.87v-3.4M135.61 15.06v3.4"/>
<path d="M163.57 90.87v-3.4M163.57 15.06v3.4"/>
<path d="M191.54 90.87v-3.4M191.54 15.06v3.4"/>
<path d="M107.65 34.01h3.4M219.5 34.01h-3.4"/>
<path d="M107.65 52.97h3.4M219.5 52.97h-3.4"/>
<path d="M107.65 71.92h3.4M219.5 71.92h-3.4"/>
</g>
<g font-size="12">
<text x="33.9" y="8.85" text-anchor="end">0.4</text>
<text x="33.9" y="63.74" text-anchor="end">0.3</text>
<text x="33.9" y="118.62" text-anchor="end">0.2</text>
<text x="33.9" y="173.51" text-anchor="end">0.1</text>
<text x="33.9" y="228.40" text-anchor="end">0</text>
<text x="42.70" y="239.9" text-anchor="middle">0</text>
<text x="96.09" y="239.9" text-anchor="middle">0.025</text>
<text x="149.48" y="239.9" text-anchor="middle">0.05</text>
<text x="202.88" y="239.9" text-anchor="middle">0.075</text>
<text x="256.27" y="239.9" text-anchor="middle">0.1</text>
<text x="309.66" y="239.9" text-anchor="middle">0.125</text>
<text x="363.05" y="239.9" text-anchor="middle">0.15</text>
<text x="99.7" y="18.26" text-anchor="end">0.1</text>
<text x="99.7" y="37.21" text-anchor="end">0.075</text>
<text x="99.7" y="56.17" text-anchor="end">0.05</text>
<text x="99.7" y="75.12" text-anchor="end">0.025</text>
<text x="99.7" y="94.07" text-anchor="end">0</text>
<text x="109.15" y="105.4" text-anchor="middle">0</text>
<text x="137.11" y="105.4" text-anchor="middle">0.05</text>
<text x="165.07" y="105.4" text-anchor="middle">0.1</text>
<text x="193.04" y="105.4" text-anchor="middle">0.15</text>
<text x="221.00" y="105.4" text-anchor="middle">0.2</text>
<text y="211.8" font-size="12.2" x="49.7 53.8 60.6">(a)</text>
</g>
<g font-size="12.5" font-style="italic">
<text x="190.9" y="258.1">t</text>
<path d="M196.1 261L200.8 249.2" stroke="#303030" stroke-width="0.75" fill="none"/>
<text x="201.6" y="258.1">U</text>
<text x="153.5" y="118.1">t</text>
<path d="M158.6 120.6L163 109.1" stroke="#303030" stroke-width="0.75" fill="none"/>
<text x="163.8" y="118.1">U</text>
<g transform="translate(9.3,129) rotate(-90)">
<text transform="translate(6.4,0) scale(1.15,1)" text-anchor="end" font-size="12.5">J</text>
<text x="6.0" y="1.6" font-size="8.5">α</text>
<path d="M13.1 3.4L19.0 -7.6" stroke="#303030" stroke-width="0.75" fill="none"/>
<text transform="translate(27.3,0) scale(1.15,1)" text-anchor="end" font-size="12.5">J</text>
<path d="M28.2 -4.4L29.9 -7.6" stroke="#303030" stroke-width="0.9" fill="none"/>
</g>
<g transform="translate(64.1,66.9) rotate(-90)">
<text transform="translate(6.7,0) scale(1.15,1)" text-anchor="end" font-size="12.5">J</text>
<path d="M7.3 -4.4L9.0 -7.6" stroke="#303030" stroke-width="0.9" fill="none"/>
<path d="M10.2 3.0L16.3 -7.6" stroke="#303030" stroke-width="0.75" fill="none"/>
<text x="17.7" y="0">U</text>
</g>
<text transform="translate(246.5,30.8) scale(1.18,1)" text-anchor="end" font-size="13">J</text>
<text x="246.4" y="32.8" font-size="9" font-style="normal">3</text>
<path d="M231.5 39.6H238" stroke="#303030" stroke-width="0.7"/>
<text transform="translate(246.5,43.2) scale(1.18,1)" text-anchor="end" font-size="13">J</text>
<path d="M247.6 38.4V47M249.7 38.4V47" stroke="#303030" stroke-width="0.55" fill="none"/>
<path d="M228.7 51.4H235.2" stroke="#303030" stroke-width="0.7"/>
<text transform="translate(244.4,55) scale(1.18,1)" text-anchor="end" font-size="13">J</text>
<path d="M244.6 53.7H250.1M244.6 55.8H250.1" stroke="#303030" stroke-width="0.55" fill="none"/>
<text transform="translate(244.4,67) scale(1.18,1)" text-anchor="end" font-size="13">J</text>
<path d="M245.2 64.3L249.5 68.4M249.5 64.3L245.2 68.4" stroke="#303030" stroke-width="0.6" fill="none"/>
</g>
<circle cx="273.9" cy="27.7" r="0.85" fill="#ff00ff"/>
<circle cx="273.9" cy="39.5" r="0.85" fill="#000"/>
<circle cx="273.9" cy="51.5" r="0.85" fill="#ffff00"/>
<circle cx="273.9" cy="63.5" r="0.85" fill="#0000ff"/>
</svg></body></html>
